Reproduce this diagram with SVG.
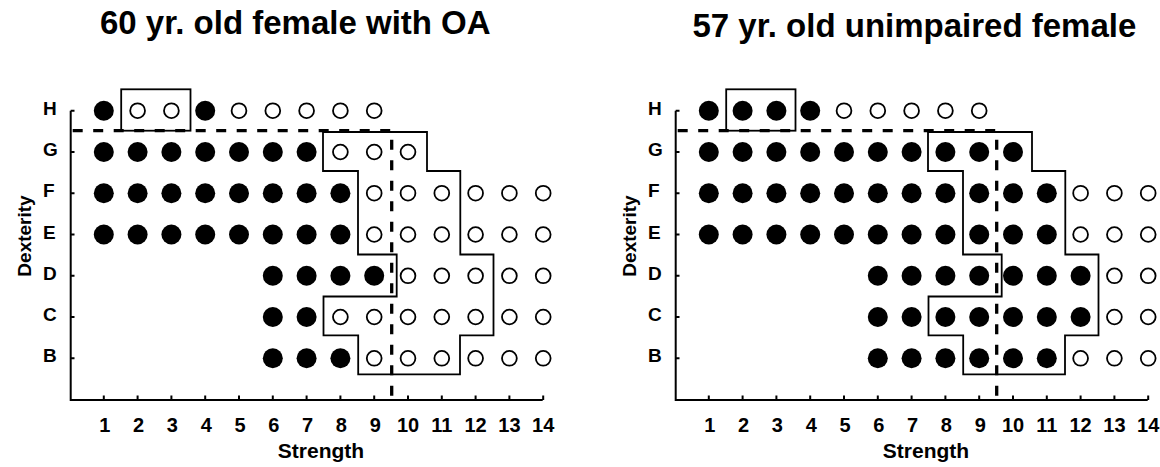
<svg xmlns="http://www.w3.org/2000/svg" width="1160" height="467" viewBox="0 0 1160 467">
<style>
text{font-family:"Liberation Sans",Arial,sans-serif;font-weight:bold;fill:#000}
.title{font-size:33px}
.row{font-size:19px}
.num{font-size:20px;text-anchor:middle}
.axlab{font-size:21px;text-anchor:middle}
.f{fill:#000}
.o{fill:#fff;stroke:#000;stroke-width:1.8}
.axis{fill:none;stroke:#000;stroke-width:2}
.box{fill:none;stroke:#000;stroke-width:1.8}
.dash{fill:none;stroke:#000;stroke-width:3.3;stroke-dasharray:10 10.5}
</style>
<defs>
<g id="frame">
<path class="axis" d="M70.7 110.7V400H542.7M70.7 110.7H74.5M70.7 152H74.5M70.7 193.2H74.5M70.7 234.5H74.5M70.7 275.8H74.5M70.7 317H74.5M70.7 358.3H74.5M103.8 400V395.5M137.6 400V395.5M171.4 400V395.5M205.2 400V395.5M239 400V395.5M272.8 400V395.5M306.6 400V395.5M340.4 400V395.5M374.2 400V395.5M408 400V395.5M441.8 400V395.5M475.6 400V395.5M509.4 400V395.5M543.2 400V395.5"/>
<text class="row" x="43" y="114.5">H</text>
<text class="row" x="43" y="156">G</text>
<text class="row" x="43" y="197.2">F</text>
<text class="row" x="43" y="238.5">E</text>
<text class="row" x="43" y="279.8">D</text>
<text class="row" x="43" y="321">C</text>
<text class="row" x="43" y="362.3">B</text>
<text class="num" x="104.8" y="432">1</text>
<text class="num" x="138.6" y="432">2</text>
<text class="num" x="172.4" y="432">3</text>
<text class="num" x="206.2" y="432">4</text>
<text class="num" x="240" y="432">5</text>
<text class="num" x="273.8" y="432">6</text>
<text class="num" x="307.6" y="432">7</text>
<text class="num" x="341.4" y="432">8</text>
<text class="num" x="375.2" y="432">9</text>
<text class="num" x="408" y="432">10</text>
<text class="num" x="441.8" y="432">11</text>
<text class="num" x="475.6" y="432">12</text>
<text class="num" x="509.4" y="432">13</text>
<text class="num" x="543.2" y="432">14</text>
<text class="axlab" x="321" y="458">Strength</text>
<text class="axlab" font-size="19" transform="translate(30.5 236) rotate(-90)" style="font-size:19px">Dexterity</text>
</g>
</defs>

<text class="title" x="100" y="34">60 yr. old female with OA</text>
<text class="title" x="692.5" y="37">57 yr. old unimpaired female</text>

<g id="panel-oa">
<use href="#frame"/>
<g id="oa-dots">
<circle class="f" cx="103.8" cy="110.7" r="10"/><circle class="o" cx="137.6" cy="110.7" r="7.4"/><circle class="o" cx="171.4" cy="110.7" r="7.4"/><circle class="f" cx="205.2" cy="110.7" r="10"/><circle class="o" cx="239" cy="110.7" r="7.4"/><circle class="o" cx="272.8" cy="110.7" r="7.4"/><circle class="o" cx="306.6" cy="110.7" r="7.4"/><circle class="o" cx="340.4" cy="110.7" r="7.4"/><circle class="o" cx="374.2" cy="110.7" r="7.4"/>
<circle class="f" cx="103.8" cy="152" r="10"/><circle class="f" cx="137.6" cy="152" r="10"/><circle class="f" cx="171.4" cy="152" r="10"/><circle class="f" cx="205.2" cy="152" r="10"/><circle class="f" cx="239" cy="152" r="10"/><circle class="f" cx="272.8" cy="152" r="10"/><circle class="f" cx="306.6" cy="152" r="10"/><circle class="o" cx="340.4" cy="152" r="7.4"/><circle class="o" cx="374.2" cy="152" r="7.4"/><circle class="o" cx="408" cy="152" r="7.4"/>
<circle class="f" cx="103.8" cy="193.2" r="10"/><circle class="f" cx="137.6" cy="193.2" r="10"/><circle class="f" cx="171.4" cy="193.2" r="10"/><circle class="f" cx="205.2" cy="193.2" r="10"/><circle class="f" cx="239" cy="193.2" r="10"/><circle class="f" cx="272.8" cy="193.2" r="10"/><circle class="f" cx="306.6" cy="193.2" r="10"/><circle class="f" cx="340.4" cy="193.2" r="10"/><circle class="o" cx="374.2" cy="193.2" r="7.4"/><circle class="o" cx="408" cy="193.2" r="7.4"/><circle class="o" cx="441.8" cy="193.2" r="7.4"/><circle class="o" cx="475.6" cy="193.2" r="7.4"/><circle class="o" cx="509.4" cy="193.2" r="7.4"/><circle class="o" cx="543.2" cy="193.2" r="7.4"/>
<circle class="f" cx="103.8" cy="234.5" r="10"/><circle class="f" cx="137.6" cy="234.5" r="10"/><circle class="f" cx="171.4" cy="234.5" r="10"/><circle class="f" cx="205.2" cy="234.5" r="10"/><circle class="f" cx="239" cy="234.5" r="10"/><circle class="f" cx="272.8" cy="234.5" r="10"/><circle class="f" cx="306.6" cy="234.5" r="10"/><circle class="f" cx="340.4" cy="234.5" r="10"/><circle class="o" cx="374.2" cy="234.5" r="7.4"/><circle class="o" cx="408" cy="234.5" r="7.4"/><circle class="o" cx="441.8" cy="234.5" r="7.4"/><circle class="o" cx="475.6" cy="234.5" r="7.4"/><circle class="o" cx="509.4" cy="234.5" r="7.4"/><circle class="o" cx="543.2" cy="234.5" r="7.4"/>
<circle class="f" cx="272.8" cy="275.8" r="10"/><circle class="f" cx="306.6" cy="275.8" r="10"/><circle class="f" cx="340.4" cy="275.8" r="10"/><circle class="f" cx="374.2" cy="275.8" r="10"/><circle class="o" cx="408" cy="275.8" r="7.4"/><circle class="o" cx="441.8" cy="275.8" r="7.4"/><circle class="o" cx="475.6" cy="275.8" r="7.4"/><circle class="o" cx="509.4" cy="275.8" r="7.4"/><circle class="o" cx="543.2" cy="275.8" r="7.4"/>
<circle class="f" cx="272.8" cy="317" r="10"/><circle class="f" cx="306.6" cy="317" r="10"/><circle class="o" cx="340.4" cy="317" r="7.4"/><circle class="o" cx="374.2" cy="317" r="7.4"/><circle class="o" cx="408" cy="317" r="7.4"/><circle class="o" cx="441.8" cy="317" r="7.4"/><circle class="o" cx="475.6" cy="317" r="7.4"/><circle class="o" cx="509.4" cy="317" r="7.4"/><circle class="o" cx="543.2" cy="317" r="7.4"/>
<circle class="f" cx="272.8" cy="358.3" r="10"/><circle class="f" cx="306.6" cy="358.3" r="10"/><circle class="f" cx="340.4" cy="358.3" r="10"/><circle class="o" cx="374.2" cy="358.3" r="7.4"/><circle class="o" cx="408" cy="358.3" r="7.4"/><circle class="o" cx="441.8" cy="358.3" r="7.4"/><circle class="o" cx="475.6" cy="358.3" r="7.4"/><circle class="o" cx="509.4" cy="358.3" r="7.4"/><circle class="o" cx="543.2" cy="358.3" r="7.4"/>
</g>
<g id="oa-lines">
<rect class="box" x="121.2" y="89.3" width="69.3" height="41.4"/>
<path class="box" d="M323 132H427V171H460.3V254.5H493.5V335.3H460V374.3H358.2V335.3H323.5V296.5H396.7V254.5H358V171H323Z"/>
<path class="dash" d="M72.7 130.7H391.7V403"/>
</g>
</g>

<g id="panel-unimpaired" transform="translate(605 0)">
<use href="#frame"/>
<g id="un-dots">
<circle class="f" cx="103.8" cy="110.7" r="10"/><circle class="f" cx="137.6" cy="110.7" r="10"/><circle class="f" cx="171.4" cy="110.7" r="10"/><circle class="f" cx="205.2" cy="110.7" r="10"/><circle class="o" cx="239" cy="110.7" r="7.4"/><circle class="o" cx="272.8" cy="110.7" r="7.4"/><circle class="o" cx="306.6" cy="110.7" r="7.4"/><circle class="o" cx="340.4" cy="110.7" r="7.4"/><circle class="o" cx="374.2" cy="110.7" r="7.4"/>
<circle class="f" cx="103.8" cy="152" r="10"/><circle class="f" cx="137.6" cy="152" r="10"/><circle class="f" cx="171.4" cy="152" r="10"/><circle class="f" cx="205.2" cy="152" r="10"/><circle class="f" cx="239" cy="152" r="10"/><circle class="f" cx="272.8" cy="152" r="10"/><circle class="f" cx="306.6" cy="152" r="10"/><circle class="f" cx="340.4" cy="152" r="10"/><circle class="f" cx="374.2" cy="152" r="10"/><circle class="f" cx="408" cy="152" r="10"/>
<circle class="f" cx="103.8" cy="193.2" r="10"/><circle class="f" cx="137.6" cy="193.2" r="10"/><circle class="f" cx="171.4" cy="193.2" r="10"/><circle class="f" cx="205.2" cy="193.2" r="10"/><circle class="f" cx="239" cy="193.2" r="10"/><circle class="f" cx="272.8" cy="193.2" r="10"/><circle class="f" cx="306.6" cy="193.2" r="10"/><circle class="f" cx="340.4" cy="193.2" r="10"/><circle class="f" cx="374.2" cy="193.2" r="10"/><circle class="f" cx="408" cy="193.2" r="10"/><circle class="f" cx="441.8" cy="193.2" r="10"/><circle class="o" cx="475.6" cy="193.2" r="7.4"/><circle class="o" cx="509.4" cy="193.2" r="7.4"/><circle class="o" cx="543.2" cy="193.2" r="7.4"/>
<circle class="f" cx="103.8" cy="234.5" r="10"/><circle class="f" cx="137.6" cy="234.5" r="10"/><circle class="f" cx="171.4" cy="234.5" r="10"/><circle class="f" cx="205.2" cy="234.5" r="10"/><circle class="f" cx="239" cy="234.5" r="10"/><circle class="f" cx="272.8" cy="234.5" r="10"/><circle class="f" cx="306.6" cy="234.5" r="10"/><circle class="f" cx="340.4" cy="234.5" r="10"/><circle class="f" cx="374.2" cy="234.5" r="10"/><circle class="f" cx="408" cy="234.5" r="10"/><circle class="f" cx="441.8" cy="234.5" r="10"/><circle class="o" cx="475.6" cy="234.5" r="7.4"/><circle class="o" cx="509.4" cy="234.5" r="7.4"/><circle class="o" cx="543.2" cy="234.5" r="7.4"/>
<circle class="f" cx="272.8" cy="275.8" r="10"/><circle class="f" cx="306.6" cy="275.8" r="10"/><circle class="f" cx="340.4" cy="275.8" r="10"/><circle class="f" cx="374.2" cy="275.8" r="10"/><circle class="f" cx="408" cy="275.8" r="10"/><circle class="f" cx="441.8" cy="275.8" r="10"/><circle class="f" cx="475.6" cy="275.8" r="10"/><circle class="o" cx="509.4" cy="275.8" r="7.4"/><circle class="o" cx="543.2" cy="275.8" r="7.4"/>
<circle class="f" cx="272.8" cy="317" r="10"/><circle class="f" cx="306.6" cy="317" r="10"/><circle class="f" cx="340.4" cy="317" r="10"/><circle class="f" cx="374.2" cy="317" r="10"/><circle class="f" cx="408" cy="317" r="10"/><circle class="f" cx="441.8" cy="317" r="10"/><circle class="f" cx="475.6" cy="317" r="10"/><circle class="o" cx="509.4" cy="317" r="7.4"/><circle class="o" cx="543.2" cy="317" r="7.4"/>
<circle class="f" cx="272.8" cy="358.3" r="10"/><circle class="f" cx="306.6" cy="358.3" r="10"/><circle class="f" cx="340.4" cy="358.3" r="10"/><circle class="f" cx="374.2" cy="358.3" r="10"/><circle class="f" cx="408" cy="358.3" r="10"/><circle class="f" cx="441.8" cy="358.3" r="10"/><circle class="o" cx="475.6" cy="358.3" r="7.4"/><circle class="o" cx="509.4" cy="358.3" r="7.4"/><circle class="o" cx="543.2" cy="358.3" r="7.4"/>
</g>
<g id="un-lines">
<rect class="box" x="121.2" y="89.3" width="69.3" height="41.4"/>
<path class="box" d="M323 132H427V171H460.3V254.5H493.5V335.3H460V374.3H358.2V335.3H323.5V296.5H396.7V254.5H358V171H323Z"/>
<path class="dash" d="M72.7 130.7H391.7V403"/>
</g>
</g>
</svg>
